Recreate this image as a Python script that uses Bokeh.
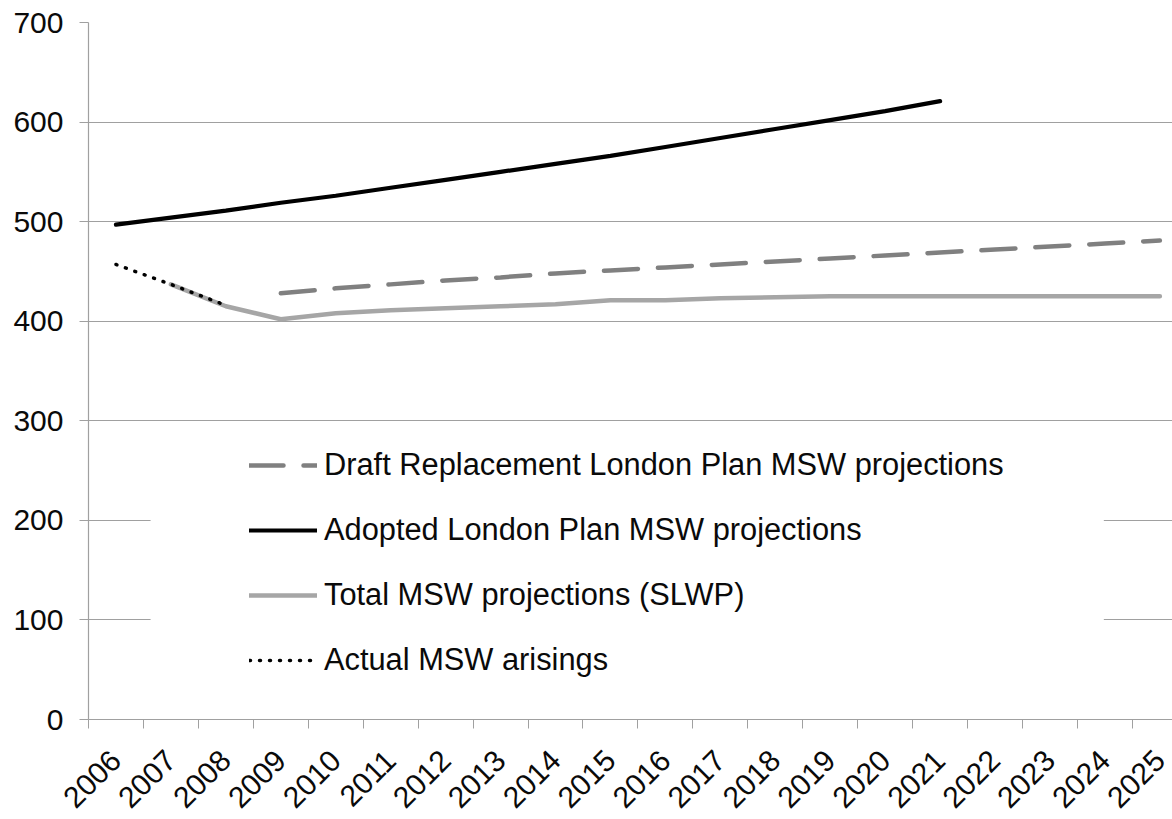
import math
from bokeh.plotting import figure
from bokeh.models import Range1d, FixedTicker, Legend, LegendItem, BoxAnnotation
from bokeh.embed import file_html
from bokeh.resources import INLINE

# ---- data ----
years = list(range(2006, 2026))
adopted_years = list(range(2006, 2022))
adopted = [497, 504, 511, 519, 526, 534, 542, 550, 558, 566, 575, 584, 593, 602, 611, 621]
draft_years = list(range(2009, 2026))
draft = [428, 433, 437, 441, 444, 448, 451, 454, 457, 460, 463, 466, 469, 472, 475, 478, 481]
total_years = list(range(2007, 2026))
total = [437, 415, 402, 408, 411, 413, 415, 417, 421, 421, 423, 424, 425, 425, 425, 425, 425, 425, 425]
actual_years = [2006, 2007, 2008]
actual = [457, 437, 416]
y_ticks = [0, 100, 200, 300, 400, 500, 600, 700]

labels = {
    "draft": "Draft Replacement London Plan MSW projections",
    "adopted": "Adopted London Plan MSW projections",
    "total": "Total MSW projections (SLWP)",
    "actual": "Actual MSW arisings",
}

FONT = "Liberation Sans"
GRID = "#a0a0a0"

p = figure(width=1172, height=819,
           x_range=Range1d(2005.5, 2025.23), y_range=Range1d(0, 700),
           output_backend="svg", toolbar_location=None,
           min_border_left=88, min_border_right=0, min_border_top=22, min_border_bottom=99)
p.outline_line_color = None
p.background_fill_color = "white"
p.border_fill_color = "white"

# grid
p.xgrid.visible = False
p.ygrid.grid_line_color = GRID
p.ygrid.grid_line_width = 1.2

# y axis
p.yaxis.ticker = FixedTicker(ticks=y_ticks, minor_ticks=[])
p.yaxis.axis_line_color = GRID
p.yaxis.axis_line_width = 1.2
p.yaxis.major_tick_line_color = GRID
p.yaxis.major_tick_out = 9
p.yaxis.major_tick_in = 0
p.yaxis.minor_tick_line_color = None
p.yaxis.major_label_text_font = FONT
p.yaxis.major_label_text_font_size = "30px"
p.yaxis.major_label_text_color = "#0a0a0a"
p.yaxis.major_label_standoff = 16

# x axis
p.xaxis.ticker = FixedTicker(ticks=years, minor_ticks=[y - 0.5 for y in years] + [years[-1] + 0.5])
p.xaxis.axis_line_color = GRID
p.xaxis.axis_line_width = 1.2
p.xaxis.major_tick_line_color = None
p.xaxis.major_tick_out = 0
p.xaxis.major_tick_in = 0
p.xaxis.minor_tick_line_color = GRID
p.xaxis.minor_tick_out = 9
p.xaxis.minor_tick_in = 0
p.xaxis.major_label_orientation = math.pi / 4
p.xaxis.major_label_overrides = {y: str(y) for y in years}
p.xaxis.major_label_text_font = FONT
p.xaxis.major_label_text_font_size = "30px"
p.xaxis.major_label_text_color = "#0a0a0a"
p.xaxis.major_label_standoff = 27

# series
r_adopted = p.line(adopted_years, adopted, line_color="black", line_width=4.2, line_cap="round")
r_draft = p.line(draft_years, draft, line_color="#808080", line_width=4.5,
                 line_dash="34 20", line_cap="round")
r_total = p.line(total_years, total, line_color="#a6a6a6", line_width=4.5, line_cap="round")
r_actual = p.line(actual_years, actual, line_color="black", line_width=3.5,
                  line_dash="1 9", line_cap="round")

# legend background
box = BoxAnnotation(left=2006.63, right=2023.98, bottom=29, top=290,
                    fill_color="white", fill_alpha=1.0, line_color=None)
p.add_layout(box)

legend = Legend(items=[
    LegendItem(label=labels["draft"], renderers=[r_draft]),
    LegendItem(label=labels["adopted"], renderers=[r_adopted]),
    LegendItem(label=labels["total"], renderers=[r_total]),
    LegendItem(label=labels["actual"], renderers=[r_actual]),
], location=(161, 41), glyph_width=68, glyph_height=32, label_height=32,
    spacing=29, padding=0, margin=0, border_line_color=None,
    background_fill_alpha=0, label_text_font=FONT, label_text_font_size="30.8px",
    label_text_color="#0a0a0a", label_standoff=7)
p.add_layout(legend)

open("out.html", "w").write(file_html(p, INLINE))
